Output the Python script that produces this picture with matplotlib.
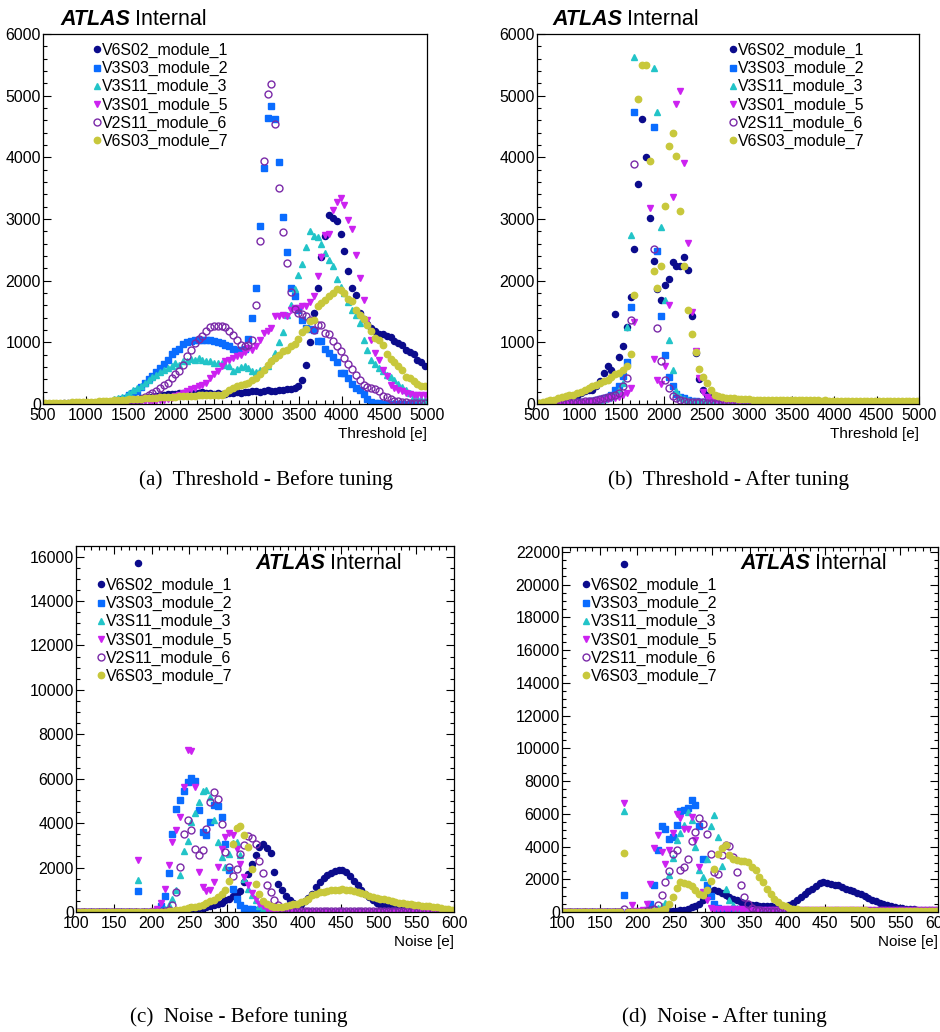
import numpy as np
import matplotlib.pyplot as plt
from matplotlib.ticker import MultipleLocator

plt.rcParams['font.family'] = ['Liberation Sans', 'DejaVu Sans']

# module names, in the order they are drawn
modules = ["V6S02_module_1", "V3S03_module_2", "V3S11_module_3",
           "V3S01_module_5", "V2S11_module_6", "V6S03_module_7"]

# histogram binning
thr_lo, thr_hi, thr_nbins = 500, 5000, 100
noise_lo, noise_hi, noise_nbins = 100, 600, 100

# ---------------- threshold, before tuning ----------------
thr_before_m1 = [
    5, 5, 5, 8, 8, 10, 10, 10, 12, 12,
    15, 15, 18, 20, 20, 25, 28, 30, 35, 40,
    45, 50, 60, 70, 80, 90, 100, 110, 120, 130,
    140, 150, 160, 165, 170, 175, 180, 170, 185, 180,
    175, 190, 185, 180, 170, 175, 160, 170, 180, 185,
    190, 185, 195, 200, 210, 205, 200, 215, 220, 210,
    205, 225, 230, 240, 250, 260, 285, 382, 637, 1004,
    1474, 1889, 2381, 2732, 3067, 3013, 2975, 2754, 2489, 2160,
    1889, 1760, 1480, 1380, 1290, 1230, 1177, 1140, 1134, 1096,
    1085, 1015, 988, 950, 880, 842, 815, 718, 680, 609]
thr_before_m2 = [
    5, 5, 5, 5, 5, 8, 8, 8, 10, 10,
    10, 12, 15, 15, 18, 20, 25, 30, 40, 60,
    75, 97, 140, 175, 204, 270, 340, 400, 459, 520,
    583, 650, 718, 810, 860, 891, 977, 1000, 1014, 1030,
    1042, 1040, 1042, 1030, 1014, 1000, 988, 960, 933, 900,
    880, 870, 900, 1053, 1393, 1879, 2888, 3823, 4633, 4833,
    4617, 3931, 3040, 2457, 1879, 1754, 1528, 1355, 1231, 1215,
    1200, 1014, 1014, 891, 826, 761, 680, 502, 502, 421,
    324, 259, 220, 160, 81, 30, 15, 10, 8, 5,
    5, 5, 5, 5, 5, 5, 5, 5, 5, 5]
thr_before_m3 = [
    3, 3, 3, 5, 5, 5, 8, 8, 10, 10,
    12, 15, 18, 20, 25, 30, 40, 55, 75, 100,
    115, 135, 178, 221, 259, 297, 340, 394, 440, 475,
    513, 556, 580, 610, 664, 637, 691, 691, 729, 718,
    745, 707, 700, 691, 664, 670, 664, 637, 610, 529,
    560, 600, 610, 580, 540, 520, 550, 567, 609, 718,
    826, 998, 1160, 1450, 1598, 1868, 2095, 2273, 2554, 2813,
    2726, 2705, 2597, 2446, 2338, 2230, 2025, 1905, 1798, 1650,
    1528, 1447, 1312, 1042, 880, 718, 648, 583, 529, 470,
    432, 394, 329, 280, 220, 178, 135, 97, 80, 70]
thr_before_m5 = [
    2, 2, 2, 3, 3, 3, 5, 5, 5, 5,
    8, 8, 10, 10, 12, 15, 15, 20, 20, 25,
    25, 30, 30, 35, 40, 40, 45, 50, 50, 55,
    60, 70, 85, 100, 124, 150, 178, 205, 240, 265,
    285, 310, 340, 421, 480, 529, 609, 691, 720, 745,
    772, 800, 850, 907, 880, 933, 1042, 1150, 1177, 1231,
    1420, 1431, 1447, 1420, 1528, 1550, 1560, 1582, 1592, 1650,
    1744, 2068, 2380, 2740, 2760, 3148, 3283, 3337, 3229, 2986,
    2835, 2419, 2041, 1690, 1366, 1042, 826, 718, 556, 448,
    313, 259, 232, 205, 178, 160, 151, 151, 151, 151]
thr_before_m6 = [
    2, 2, 2, 2, 3, 3, 3, 3, 5, 5,
    5, 5, 5, 8, 8, 8, 10, 10, 12, 15,
    20, 25, 35, 45, 60, 80, 110, 140, 178, 216,
    260, 310, 340, 421, 480, 529, 637, 772, 880, 988,
    1050, 1096, 1177, 1241, 1258, 1269, 1258, 1247, 1177, 1123,
    1042, 961, 934, 950, 1042, 1609, 2646, 3946, 5022, 5184,
    4536, 3510, 2786, 2284, 1809, 1539, 1480, 1463, 1420, 1366,
    1200, 1285, 1274, 1150, 1134, 1015, 945, 853, 745, 653,
    567, 475, 394, 313, 280, 259, 250, 205, 135, 108,
    81, 54, 43, 27, 27, 16, 16, 16, 16, 16]
thr_before_m7 = [
    10, 12, 15, 15, 18, 20, 22, 25, 28, 30,
    32, 35, 38, 40, 45, 48, 50, 55, 60, 65,
    70, 72, 75, 80, 85, 88, 90, 95, 100, 105,
    110, 112, 115, 118, 120, 125, 128, 130, 130, 135,
    140, 138, 145, 150, 140, 148, 151, 178, 232, 259,
    286, 313, 330, 340, 394, 421, 486, 556, 637, 691,
    745, 799, 853, 880, 934, 977, 1053, 1160, 1215, 1339,
    1366, 1592, 1636, 1679, 1744, 1798, 1863, 1852, 1798, 1701,
    1663, 1528, 1447, 1377, 1285, 1177, 1069, 1042, 950, 810,
    734, 674, 609, 556, 431, 421, 366, 324, 300, 285]

# ---------------- threshold, after tuning ----------------
# bins above 6000 run off the top of the frame
thr_after_m1 = [
    15, 20, 25, 30, 40, 45, 55, 65, 80, 97,
    130, 178, 205, 220, 232, 300, 367, 502, 610, 556,
    1463, 761, 934, 1250, 1733, 2511, 3569, 4622, 4001, 3013,
    2311, 1863, 1690, 1933, 2030, 2295, 2230, 2241, 2381, 2176,
    1431, 826, 400, 230, 150, 110, 90, 80, 70, 60,
    55, 50, 50, 45, 45, 40, 40, 40, 38, 38,
    36, 36, 35, 35, 34, 34, 33, 33, 32, 32,
    31, 31, 30, 30, 30, 30, 29, 29, 28, 28,
    28, 28, 27, 27, 27, 26, 26, 26, 25, 25,
    25, 25, 25, 24, 24, 24, 24, 23, 23, 23]
thr_after_m2 = [
    5, 5, 8, 8, 10, 10, 12, 15, 18, 20,
    25, 30, 35, 45, 55, 65, 75, 90, 110, 150,
    232, 300, 450, 675, 1571, 4730, 7900, 9600, 9200, 7100,
    4487, 2484, 1431, 799, 432, 286, 162, 110, 90, 70,
    55, 45, 40, 35, 30, 28, 25, 22, 20, 20,
    18, 18, 18, 16, 16, 16, 15, 15, 15, 15,
    14, 14, 14, 13, 13, 13, 12, 12, 12, 12,
    11, 11, 11, 10, 10, 10, 10, 10, 10, 10,
    9, 9, 9, 9, 9, 8, 8, 8, 8, 8,
    8, 8, 7, 7, 7, 7, 7, 7, 7, 7]
thr_after_m3 = [
    5, 5, 8, 8, 10, 12, 15, 18, 20, 25,
    20, 25, 30, 35, 40, 50, 60, 75, 100, 120,
    150, 230, 340, 1242, 2743, 5621, 7600, 9000, 8700, 7000,
    5443, 4741, 2867, 1690, 1031, 545, 205, 108, 80, 60,
    50, 45, 40, 35, 30, 28, 25, 22, 20, 20,
    18, 18, 17, 17, 16, 16, 15, 15, 14, 14,
    13, 13, 12, 12, 12, 11, 11, 11, 10, 10,
    10, 10, 10, 9, 9, 9, 9, 9, 8, 8,
    8, 8, 8, 8, 7, 7, 7, 7, 7, 7,
    7, 6, 6, 6, 6, 6, 6, 6, 6, 6]
thr_after_m5 = [
    2, 3, 3, 5, 5, 8, 8, 10, 12, 15,
    18, 20, 25, 30, 40, 50, 60, 70, 80, 90,
    100, 120, 150, 180, 259, 1323, 6900, 8100, 7300, 3175,
    729, 394, 329, 610, 1609, 3364, 4860, 5076, 3915, 2608,
    1485, 853, 421, 189, 120, 80, 60, 50, 40, 35,
    30, 30, 28, 28, 26, 26, 25, 25, 24, 24,
    23, 23, 22, 22, 21, 21, 20, 20, 20, 20,
    19, 19, 19, 18, 18, 18, 18, 17, 17, 17,
    17, 16, 16, 16, 16, 16, 15, 15, 15, 15,
    15, 15, 15, 15, 15, 15, 15, 15, 15, 15]
thr_after_m6 = [
    2, 3, 5, 5, 8, 10, 15, 20, 25, 30,
    35, 40, 45, 50, 55, 60, 75, 97, 108, 135,
    151, 178, 286, 421, 1366, 3888, 7400, 8800, 8600, 6700,
    2511, 1231, 691, 394, 259, 135, 97, 70, 50, 40,
    35, 30, 28, 25, 22, 20, 18, 16, 16, 16,
    16, 16, 16, 16, 16, 16, 16, 16, 16, 16,
    15, 15, 15, 15, 15, 15, 15, 15, 15, 15,
    14, 14, 14, 14, 14, 14, 14, 14, 14, 14,
    13, 13, 13, 13, 13, 13, 13, 13, 13, 13,
    12, 12, 12, 12, 12, 12, 12, 12, 12, 12]
thr_after_m7 = [
    16, 30, 43, 60, 70, 97, 110, 124, 140, 151,
    178, 200, 232, 260, 286, 310, 340, 370, 394, 430,
    480, 502, 545, 621, 805, 1771, 4941, 5497, 5497, 3947,
    2149, 1879, 2230, 3213, 4185, 4390, 4023, 3137, 2241, 1528,
    1139, 837, 567, 437, 340, 232, 151, 135, 113, 100,
    95, 90, 85, 80, 78, 75, 72, 70, 68, 66,
    65, 64, 66, 63, 62, 64, 61, 60, 62, 59,
    58, 60, 57, 58, 56, 57, 55, 56, 54, 55,
    53, 54, 52, 53, 51, 52, 50, 51, 50, 49,
    50, 48, 49, 47, 48, 46, 47, 46, 45, 45]

# ---------------- noise, before tuning ----------------
noise_before_m1 = [
    0, 0, 0, 0, 0, 0, 0, 0, 0, 0,
    0, 0, 0, 0, 0, 0, 15696, 0, 0, 0,
    5, 10, 15, 20, 25, 30, 40, 50, 60, 75,
    110, 130, 160, 190, 225, 260, 300, 350, 406, 526,
    600, 700, 800, 931, 1352, 1697, 2148, 2553, 2929, 3079,
    2884, 2659, 1802, 1247, 1006, 706, 526, 421, 330, 375,
    481, 631, 826, 1126, 1352, 1532, 1652, 1757, 1832, 1878,
    1878, 1802, 1607, 1397, 1202, 1006, 826, 676, 526, 406,
    345, 270, 225, 195, 150, 130, 110, 95, 80, 70,
    60, 55, 45, 40, 35, 30, 25, 20, 20, 15]
noise_before_m2 = [
    0, 0, 0, 0, 0, 0, 0, 0, 0, 0,
    0, 0, 0, 0, 0, 0, 931, 0, 0, 5,
    10, 40, 250, 706, 1772, 3530, 4656, 5032, 5452, 5858,
    6053, 5903, 4581, 3605, 3455, 4055, 4806, 4761, 4281, 3079,
    1877, 1051, 601, 300, 195, 150, 120, 100, 90, 75,
    60, 50, 40, 30, 25, 20, 15, 10, 8, 5,
    5, 3, 3, 0, 0, 0, 0, 0, 0, 0,
    0, 0, 0, 0, 0, 0, 0, 0, 0, 0,
    0, 0, 0, 0, 0, 0, 0, 0, 0, 0,
    0, 0, 0, 0, 0, 0, 0, 0, 0, 0]
noise_before_m3 = [
    0, 0, 0, 0, 0, 0, 0, 0, 0, 0,
    0, 0, 0, 0, 0, 0, 1427, 0, 0, 0,
    5, 20, 60, 150, 300, 600, 976, 1652, 2749, 3184,
    4055, 4461, 4956, 5452, 5512, 5182, 4130, 3154, 2478, 2028,
    2628, 3109, 3154, 2553, 1502, 1051, 751, 526, 255, 150,
    80, 40, 20, 15, 10, 8, 5, 5, 3, 3,
    0, 0, 0, 0, 0, 0, 0, 0, 0, 0,
    0, 0, 0, 0, 0, 0, 0, 0, 0, 0,
    0, 0, 0, 0, 0, 0, 0, 0, 0, 0,
    0, 0, 0, 0, 0, 0, 0, 0, 0, 0]
noise_before_m5 = [
    0, 0, 0, 0, 0, 0, 0, 0, 0, 0,
    0, 0, 0, 0, 0, 0, 2328, 0, 0, 20,
    60, 150, 400, 1051, 2103, 3154, 3680, 4281, 5632, 7315,
    7240, 5632, 1802, 1127, 946, 976, 1352, 2028, 2854, 3380,
    3560, 3455, 2854, 2148, 1577, 1202, 856, 601, 375, 255,
    150, 100, 60, 40, 30, 30, 25, 25, 20, 20,
    20, 20, 20, 20, 20, 20, 20, 20, 20, 20,
    18, 18, 18, 18, 18, 18, 18, 18, 18, 18,
    16, 16, 16, 16, 16, 16, 16, 16, 16, 16,
    15, 15, 15, 15, 15, 15, 15, 15, 15, 15]
noise_before_m6 = [
    0, 0, 0, 0, 0, 0, 0, 0, 0, 0,
    0, 0, 0, 0, 0, 0, 0, 0, 0, 0,
    0, 10, 20, 40, 100, 300, 901, 2028, 3530, 4130,
    3710, 2854, 2553, 2809, 3755, 4956, 5407, 5107, 3980, 2704,
    2028, 1607, 1952, 2628, 3004, 3409, 3349, 3079, 2283, 1757,
    1202, 901, 526, 300, 150, 80, 70, 60, 60, 60,
    60, 60, 60, 60, 60, 60, 60, 60, 60, 60,
    60, 60, 60, 60, 60, 60, 60, 60, 60, 60,
    60, 60, 60, 60, 60, 60, 60, 60, 60, 60,
    60, 60, 60, 60, 60, 60, 60, 60, 60, 60]
noise_before_m7 = [
    0, 0, 0, 0, 0, 0, 0, 0, 0, 0,
    0, 0, 0, 0, 0, 0, 0, 0, 0, 0,
    5, 10, 15, 20, 30, 45, 70, 105, 140, 180,
    210, 240, 270, 330, 406, 480, 556, 680, 796, 1006,
    1397, 3079, 3800, 3860, 3485, 2929, 1953, 1277, 826, 496,
    375, 280, 240, 220, 230, 260, 300, 340, 380, 440,
    500, 600, 766, 820, 880, 914, 950, 980, 990, 1005,
    1020, 1010, 980, 960, 900, 840, 800, 740, 690, 640,
    600, 570, 520, 480, 450, 420, 390, 370, 350, 330,
    300, 280, 270, 250, 240, 210, 180, 150, 120, 90]

# ---------------- noise, after tuning ----------------
noise_after_m1 = [
    0, 0, 0, 0, 0, 0, 0, 0, 0, 0,
    0, 0, 0, 0, 0, 0, 21287, 0, 0, 0,
    0, 0, 5, 10, 15, 20, 25, 30, 40, 50,
    70, 100, 150, 200, 280, 380, 509, 713, 1019, 1222,
    1324, 1283, 1161, 1019, 917, 815, 713, 611, 550, 469,
    430, 400, 380, 370, 360, 350, 330, 300, 300, 330,
    407, 550, 713, 917, 1080, 1283, 1426, 1568, 1793, 1833,
    1772, 1731, 1670, 1630, 1528, 1426, 1324, 1263, 1161, 1080,
    957, 856, 754, 652, 550, 469, 407, 346, 306, 265,
    224, 204, 183, 163, 143, 143, 122, 102, 102, 102]
noise_after_m2 = [
    0, 0, 0, 0, 0, 0, 0, 0, 0, 0,
    0, 0, 0, 0, 0, 0, 1059, 0, 0, 0,
    0, 0, 150, 509, 1670, 3768, 5235, 5093, 4481, 4600,
    5296, 6152, 6254, 6376, 6865, 6559, 5235, 3259, 1670, 977,
    509, 250, 120, 80, 60, 40, 30, 20, 15, 10,
    5, 0, 0, 0, 0, 0, 0, 0, 0, 0,
    0, 0, 0, 0, 0, 0, 0, 0, 0, 0,
    0, 0, 0, 0, 0, 0, 0, 0, 0, 0,
    0, 0, 0, 0, 0, 0, 0, 0, 0, 0,
    0, 0, 0, 0, 0, 0, 0, 0, 0, 0]
noise_after_m3 = [
    0, 0, 0, 0, 0, 0, 0, 0, 0, 0,
    0, 0, 0, 0, 0, 0, 6152, 0, 0, 0,
    20, 50, 100, 100, 150, 250, 350, 520, 2241, 3279,
    4379, 4828, 5296, 6111, 5602, 3972, 2546, 2139, 3259, 5235,
    5948, 4583, 2791, 1426, 754, 407, 265, 180, 120, 90,
    60, 40, 30, 20, 15, 10, 8, 5, 0, 0,
    0, 0, 0, 0, 0, 0, 0, 0, 0, 0,
    0, 0, 0, 0, 0, 0, 0, 0, 0, 0,
    0, 0, 0, 0, 0, 0, 0, 0, 0, 0,
    0, 0, 0, 0, 0, 0, 0, 0, 0, 0]
noise_after_m5 = [
    0, 0, 0, 0, 0, 0, 0, 0, 0, 0,
    0, 0, 0, 0, 0, 0, 6661, 0, 427, 50,
    80, 150, 469, 1731, 3931, 4685, 3667, 2954, 3768, 4828,
    6009, 5745, 5093, 5093, 5806, 4420, 2750, 1222, 713, 265,
    200, 180, 170, 165, 160, 160, 155, 155, 150, 150,
    150, 145, 145, 140, 140, 140, 135, 135, 130, 130,
    125, 125, 120, 120, 120, 115, 115, 115, 110, 110,
    110, 110, 105, 105, 105, 105, 100, 100, 100, 100,
    100, 100, 100, 100, 100, 100, 100, 100, 100, 100,
    100, 100, 100, 100, 100, 100, 100, 100, 100, 100]
noise_after_m6 = [
    0, 0, 0, 0, 0, 0, 0, 0, 0, 0,
    0, 0, 0, 0, 0, 0, 204, 0, 0, 0,
    10, 30, 60, 120, 200, 407, 1019, 1833, 2485, 3565,
    3768, 2546, 2750, 3259, 4318, 4889, 5765, 5398, 4746, 3565,
    2444, 2300, 3500, 4070, 4010, 3360, 2444, 1630, 917, 500,
    250, 150, 100, 80, 70, 60, 60, 60, 58, 58,
    56, 56, 55, 55, 54, 54, 53, 53, 52, 52,
    51, 51, 50, 50, 50, 49, 49, 48, 48, 47,
    47, 46, 46, 45, 45, 44, 44, 43, 43, 42,
    42, 42, 41, 41, 41, 40, 40, 40, 40, 40]
noise_after_m7 = [
    0, 0, 0, 0, 0, 0, 0, 0, 0, 0,
    0, 0, 0, 0, 0, 0, 3626, 0, 0, 0,
    0, 5, 10, 20, 40, 60, 100, 200, 509, 917,
    1467, 1833, 1793, 1731, 1568, 1324, 1120, 1059, 1324, 1874,
    2648, 3565, 3911, 4074, 3463, 3259, 3157, 3117, 3117, 3056,
    2750, 2546, 2139, 1833, 1426, 1120, 815, 611, 448, 346,
    265, 204, 163, 140, 130, 125, 120, 118, 116, 114,
    112, 110, 108, 106, 104, 102, 100, 98, 96, 94,
    92, 90, 88, 86, 84, 82, 80, 78, 76, 74,
    72, 70, 68, 66, 65, 64, 63, 62, 61, 60]

# ROOT-like marker styles, one per module
styles = [
    dict(marker='o', color='#0b0b8c', ms=4.4),
    dict(marker='s', color='#0a6cff', ms=4.5),
    dict(marker='^', color='#22c4c8', ms=4.8),
    dict(marker='v', color='#cc22f0', ms=4.8),
    dict(marker='o', color='#7a2aa8', mfc='none', mew=1.0, ms=5.0),
    dict(marker='o', color='#c8c83c', ms=4.6),
]

W, H = 940, 1032


def bin_centers(lo, hi, n):
    width = (hi - lo) / n
    return lo + width * (np.arange(n) + 0.5)


def px_rect(left, top, right, bottom):
    """axes rectangle from pixel edges (origin top-left)"""
    return [left / W, 1 - bottom / H, (right - left) / W, (bottom - top) / H]


def draw_panel(fig, rect, x, series, xlim, ylim, xticks, yticks, xlabel,
               full_frame, legend_px, atlas_px, caption, caption_px):
    ax = fig.add_axes(rect)
    for name, y, st in zip(modules, series, styles):
        ax.plot(x, y, linestyle='none', label=name, **st)

    ax.set_xlim(*xlim)
    ax.set_ylim(*ylim)
    ax.xaxis.set_major_locator(MultipleLocator(xticks[0]))
    ax.xaxis.set_minor_locator(MultipleLocator(xticks[1]))
    ax.yaxis.set_major_locator(MultipleLocator(yticks[0]))
    ax.yaxis.set_minor_locator(MultipleLocator(yticks[1]))
    ax.tick_params(which='both', direction='in', width=0.8, labelsize=11.4,
                   top=full_frame, right=full_frame)
    ax.tick_params(which='major', length=5.5)
    ax.tick_params(which='minor', length=3)
    ax.tick_params(axis='x', pad=3)
    ax.tick_params(axis='y', pad=1.5)
    for sp in ax.spines.values():
        sp.set_linewidth(0.9)
    ax.set_xlabel(xlabel, loc='right', fontsize=11, labelpad=3)

    ax.legend(loc='upper left', bbox_to_anchor=(legend_px[0] / W, 1 - legend_px[1] / H),
              bbox_transform=fig.transFigure, frameon=False, fontsize=11.4,
              handlelength=0.4, handletextpad=0.12, borderpad=0, borderaxespad=0,
              labelspacing=0.19, numpoints=1)

    t = fig.text(atlas_px[0] / W, 1 - atlas_px[1] / H, "ATLAS", fontsize=15.5,
                 weight='bold', style='italic', va='baseline')
    ax.annotate("Internal", xy=(1, 0), xycoords=t, xytext=(5, 0),
                textcoords='offset pixels', fontsize=15.5, va='bottom',
                annotation_clip=False)

    fig.text(caption_px[0] / W, 1 - caption_px[1] / H, caption, ha='center',
             va='center', fontsize=15.2, family=['Liberation Serif', 'DejaVu Serif'])
    return ax


fig = plt.figure(figsize=(W / 100, H / 100), dpi=100)

thr_x = bin_centers(thr_lo, thr_hi, thr_nbins)
noise_x = bin_centers(noise_lo, noise_hi, noise_nbins)

draw_panel(fig, px_rect(43, 34, 427, 404), thr_x,
           [thr_before_m1, thr_before_m2, thr_before_m3,
            thr_before_m5, thr_before_m6, thr_before_m7],
           (thr_lo, thr_hi), (0, 6000), (500, 100), (1000, 200),
           "Threshold [e]", False, (94, 43), (60, 25),
           "(a)  Threshold - Before tuning", (266, 480))

draw_panel(fig, px_rect(537, 34, 919, 404), thr_x,
           [thr_after_m1, thr_after_m2, thr_after_m3,
            thr_after_m5, thr_after_m6, thr_after_m7],
           (thr_lo, thr_hi), (0, 6000), (500, 100), (1000, 200),
           "Threshold [e]", False, (730, 43), (552, 25),
           "(b)  Threshold - After tuning", (728, 480))

draw_panel(fig, px_rect(76, 546, 454, 912), noise_x,
           [noise_before_m1, noise_before_m2, noise_before_m3,
            noise_before_m5, noise_before_m6, noise_before_m7],
           (noise_lo, noise_hi), (0, 16480), (50, 10), (2000, 500),
           "Noise [e]", True, (98, 578), (255, 569),
           "(c)  Noise - Before tuning", (239, 1017))

draw_panel(fig, px_rect(562, 547, 938, 912), noise_x,
           [noise_after_m1, noise_after_m2, noise_after_m3,
            noise_after_m5, noise_after_m6, noise_after_m7],
           (noise_lo, noise_hi), (0, 22300), (50, 10), (2000, 500),
           "Noise [e]", True, (583, 578), (740, 569),
           "(d)  Noise - After tuning", (724, 1017))

fig.savefig("out.png", dpi=100)
